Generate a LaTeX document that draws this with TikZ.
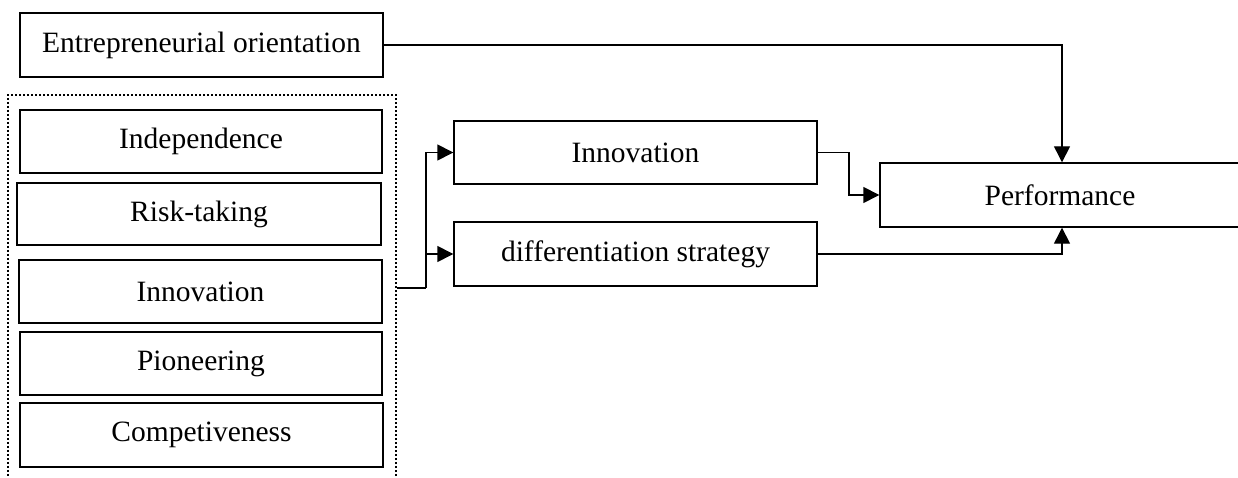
\documentclass[tikz,border=0pt]{standalone}
\usepackage{fontspec}
\setmainfont{Liberation Serif}
\usetikzlibrary{arrows.meta}
\begin{document}
\begin{tikzpicture}[x=1pt,y=-1pt,
  box/.style={draw, line width=1.4pt, rectangle, inner sep=0pt, font=\fontsize{29.5}{34}\selectfont},
  grp/.style={draw, line width=2.6pt, dash pattern=on 2.4pt off 1.6pt, rectangle, inner sep=0pt},
  conn/.style={line width=1.4pt},
  arr/.style={conn, -{Triangle[length=16pt,width=16pt]}}]
\useasboundingbox (0,0) rectangle (1238,478);
\node[grp, minimum width=388pt, minimum height=405pt] (group) at (202,297.5) {};
\node[box, minimum width=363pt, minimum height=64pt] (eo) at (201.5,45) {Entrepreneurial orientation};
\node[box, minimum width=362pt, minimum height=63pt] (ind) at (201,141.5) {Independence};
\node[box, minimum width=364pt, minimum height=62pt] (risk) at (199,214) {Risk-taking};
\node[box, minimum width=363pt, minimum height=63pt] (inn1) at (200.5,291.5) {Innovation};
\node[box, minimum width=362pt, minimum height=63pt] (pio) at (201,363.5) {Pioneering};
\node[box, minimum width=363pt, minimum height=64pt] (comp) at (201.5,435) {Competiveness};
\node[box, minimum width=363pt, minimum height=63pt] (inn2) at (635.5,152.5) {Innovation};
\node[box, minimum width=363pt, minimum height=64pt] (diff) at (635.5,254) {differentiation strategy};
\node[box, minimum width=360pt, minimum height=64pt] (perf) at (1060,195) {Performance};
\coordinate (split) at (426,288);
\coordinate (ecol) at (1062,0);
\coordinate (bend) at (849,0);
\draw[arr] (eo.east) -| (perf.north -| ecol);
\draw[conn] (group.east |- split) -- (split);
\draw[arr] (split) |- (inn2.west);
\draw[arr] (split) |- (diff.west);
\draw[arr] (inn2.east) -| (bend |- inn2.east) |- (perf.west);
\draw[arr] (diff.east) -| (perf.south -| ecol);
\end{tikzpicture}
\end{document}
